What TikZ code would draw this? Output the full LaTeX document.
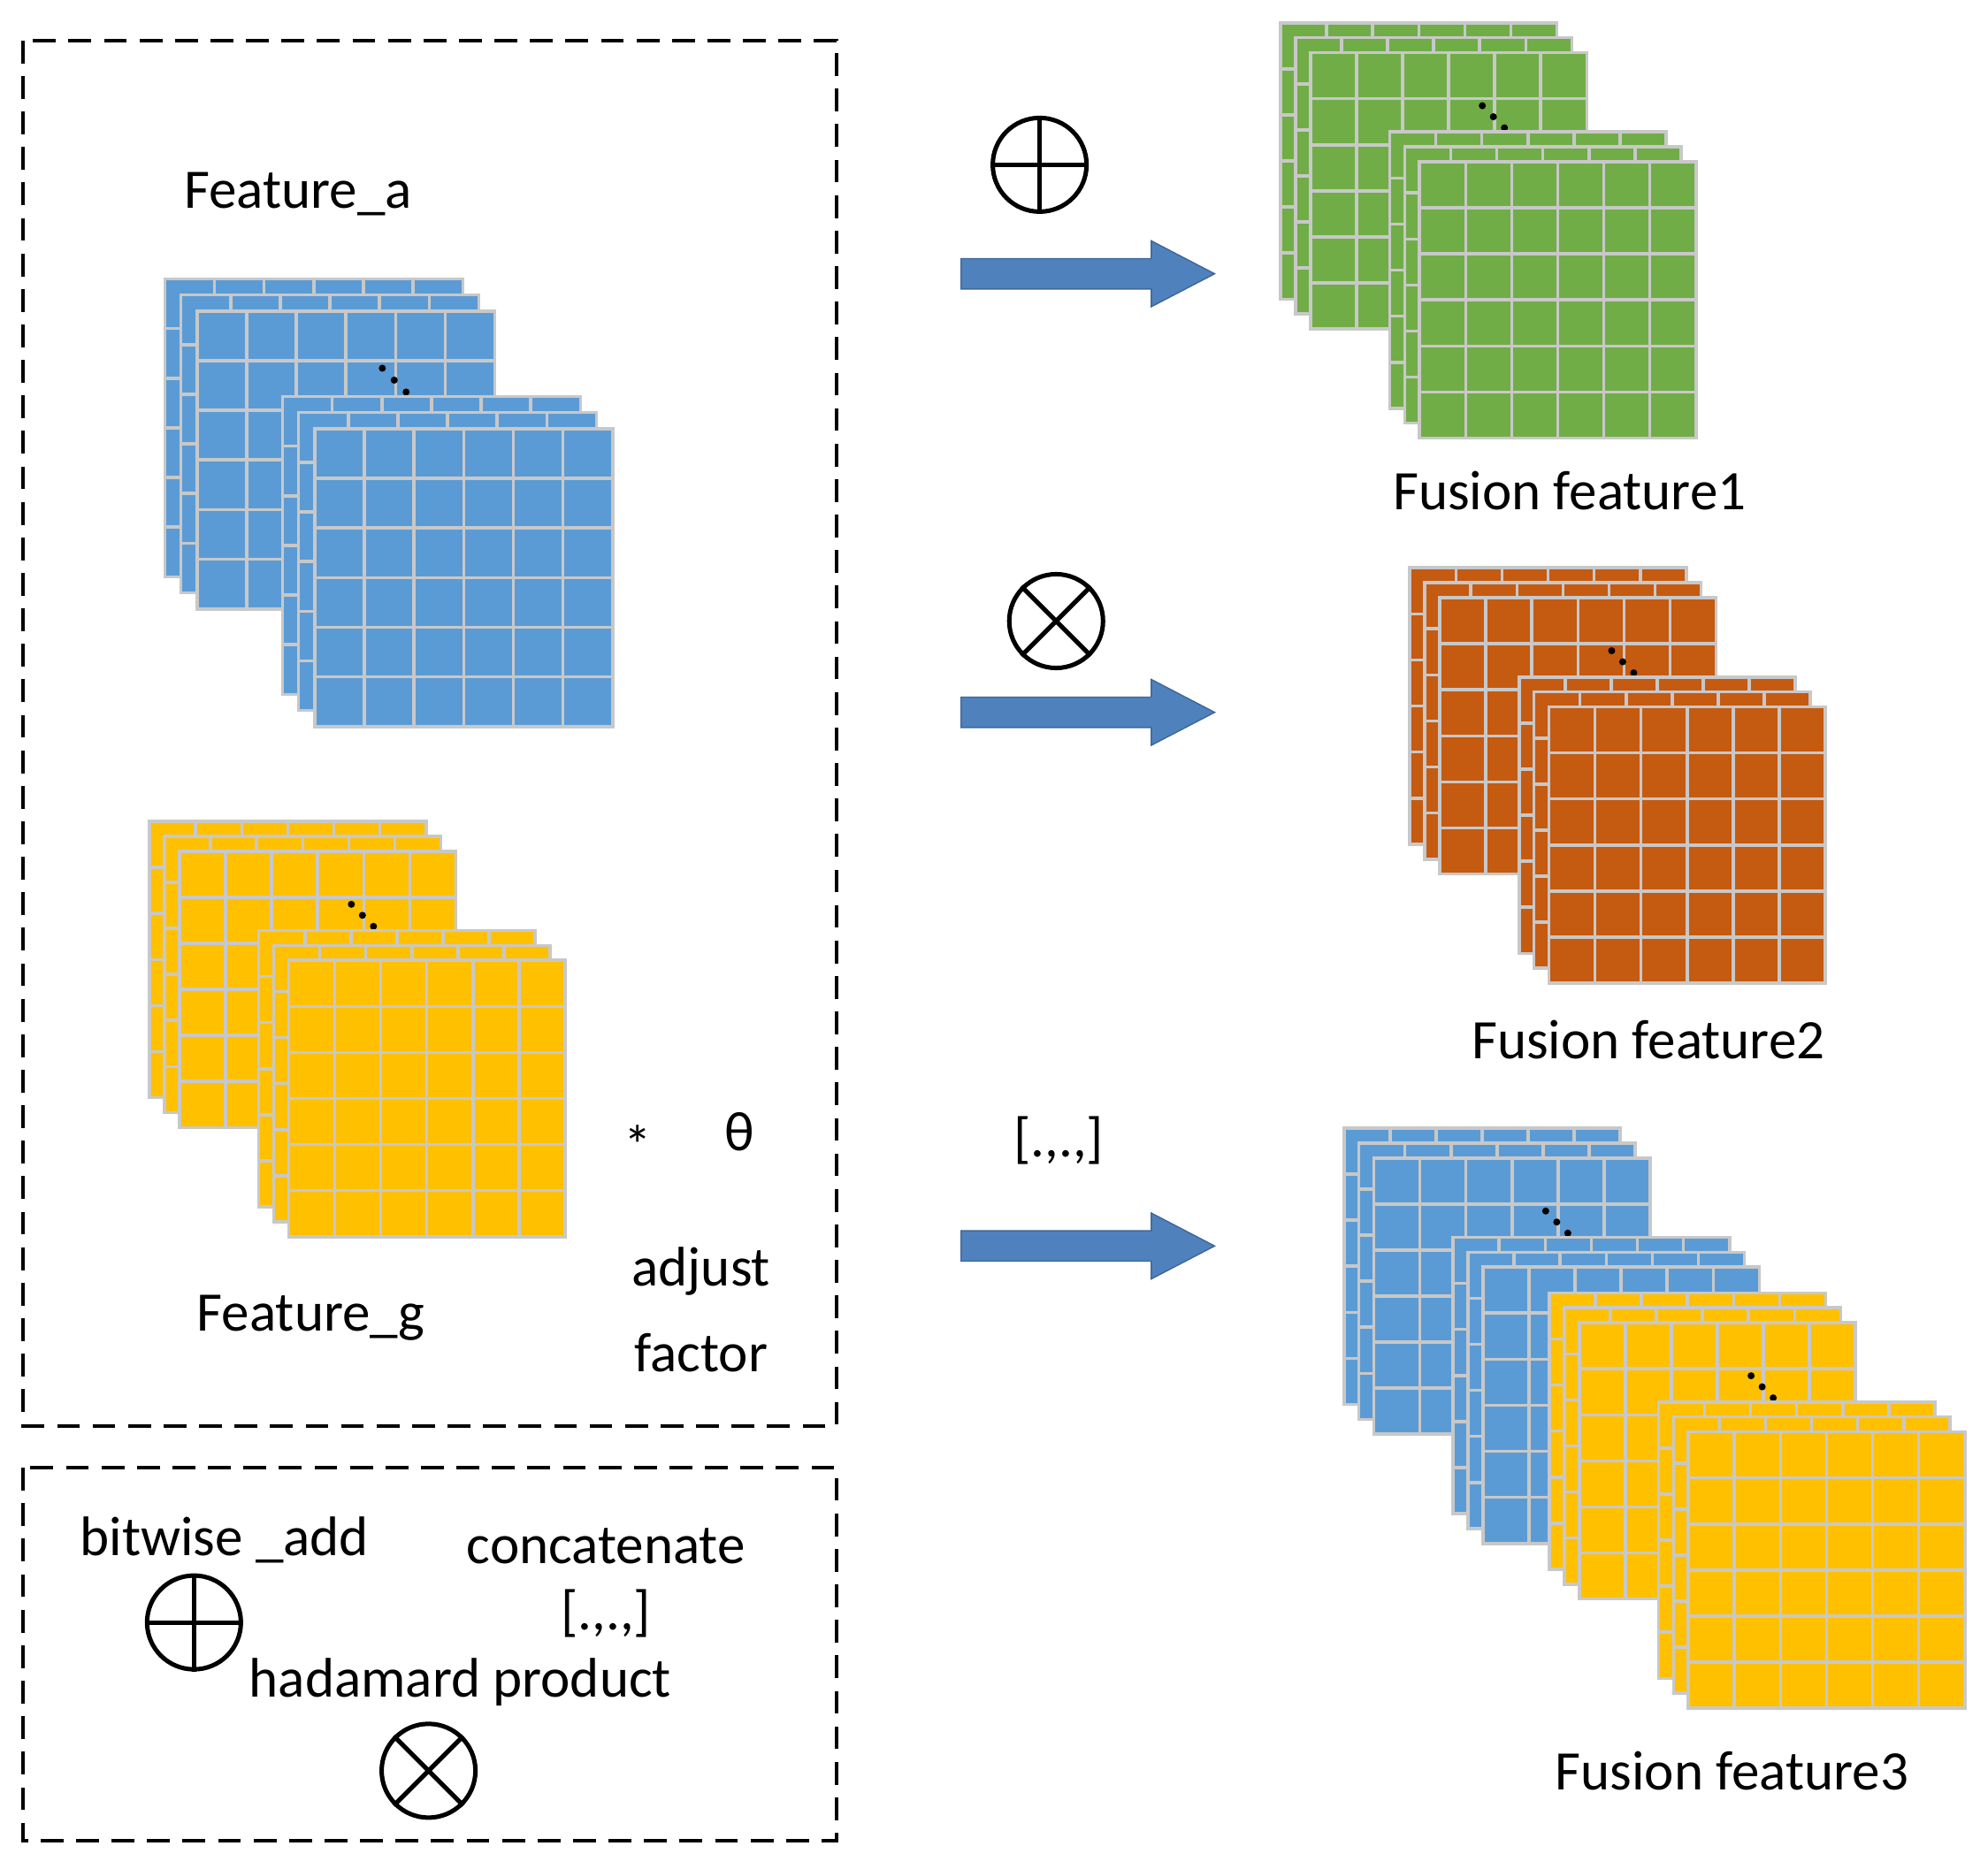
\documentclass[tikz,border=0pt]{standalone}
\usepackage{fontspec}
\setmainfont{Carlito}
\definecolor{mapblue}{HTML}{5B9BD5}
\definecolor{mapyellow}{HTML}{FFC000}
\definecolor{mapgreen}{HTML}{70AD47}
\definecolor{maporange}{HTML}{C55A11}
\definecolor{gridgray}{HTML}{C8C8C8}
\definecolor{arrowblue}{HTML}{4F81BD}

% one feature map: x, y (top left), size, colour
\newcommand{\featmap}[4]{%
  \fill[#4,draw=gridgray,line width=2.5pt] ({#1},{#2}) rectangle ++(#3,#3);
  \foreach \k in {1,...,5}{
    \draw[gridgray,line width=2.5pt] ({#1+\k*#3/6},{#2}) -- ++(0,#3);
    \draw[gridgray,line width=2.5pt] ({#1},{#2+\k*#3/6}) -- ++(#3,0);
  }}
% two groups of three maps with dots between
\newcommand{\featstack}[4]{%
  \foreach \g in {0,1}{
    \foreach \i in {0,1,2}{
      \featmap{#1+\g*0.395*#3+\i*0.054*#3}{#2+\g*0.395*#3+\i*0.054*#3}{#3}{#4}
    }
    \ifnum\g=0
      \foreach \d in {0,1,2}
        \fill ({#1+(0.73+\d*0.04)*#3},{#2+(0.30+\d*0.04)*#3}) circle (2.8pt);
    \fi
  }}

\begin{document}
\begin{tikzpicture}[x=1pt,y=-1pt,
    label/.style={font=\fontsize{44}{48}\selectfont},
    box/.style={draw,dashed,line width=3pt,dash pattern=on 18pt off 10pt},
    fuse/.style={fill=arrowblue,draw=arrowblue!80!black,line width=1pt},
    op/.style={circle,draw,line width=3.5pt,minimum size=74pt,inner sep=0pt}
]
\useasboundingbox (0,0) rectangle (1568,1474);

% boxes
\draw[box] (18,32) rectangle (660,1125);
\draw[box] (18,1158) rectangle (660,1452);

% input features
\featstack{130}{220}{235}{mapblue}
\featstack{118}{648}{218}{mapyellow}
\node[label] (feata) at (235,153) {Feature\_a};
\node[label] (featg) at (245,1040) {Feature\_g};
\node[label] (star) at (503,903) {*};
\node[label] (theta) at (583,893) {θ};
\node[label] (adjust) at (553,1003) {adjust};
\node[label] (factor) at (553,1067) {factor};

% fused features
\featstack{1010}{18}{218}{mapgreen}
\featstack{1112}{448}{218}{maporange}
\featstack{1060}{890}{218}{mapblue}
\featstack{1222}{1020}{218}{mapyellow}
\node[label] (fuse1) at (1238,387) {Fusion feature1};
\node[label] (fuse2) at (1300,820) {Fusion feature2};
\node[label] (fuse3) at (1366,1397) {Fusion feature3};

% operators and arrows
\node[op] (add) at (820,130) {};
\draw[line width=3.5pt] (add.north) -- (add.south) (add.west) -- (add.east);
\node[op] (mul) at (833,490) {};
\draw[line width=3.5pt] (mul.north west) -- (mul.south east) (mul.north east) -- (mul.south west);
\node[label] (cat) at (835,900) {[.,.,]};
\foreach \y in {216,562,983}
  \filldraw[fuse] (758,\y-12) -- (908,\y-12) -- (908,\y-26) -- (958,\y) -- (908,\y+26) -- (908,\y+12) -- (758,\y+12) -- cycle;

% legend
\node[label] (addtxt) at (177,1215) {bitwise \_add};
\node[op] (addkey) at (153,1280) {};
\draw[line width=3.5pt] (addkey.north) -- (addkey.south) (addkey.west) -- (addkey.east);
\node[label] (cattxt) at (478,1220) {concatenate};
\node[label] (catkey) at (478,1273) {[.,.,]};
\node[label] (multxt) at (363,1327) {hadamard product};
\node[op] (mulkey) at (338,1397) {};
\draw[line width=3.5pt] (mulkey.north west) -- (mulkey.south east) (mulkey.north east) -- (mulkey.south west);
\end{tikzpicture}
\end{document}
